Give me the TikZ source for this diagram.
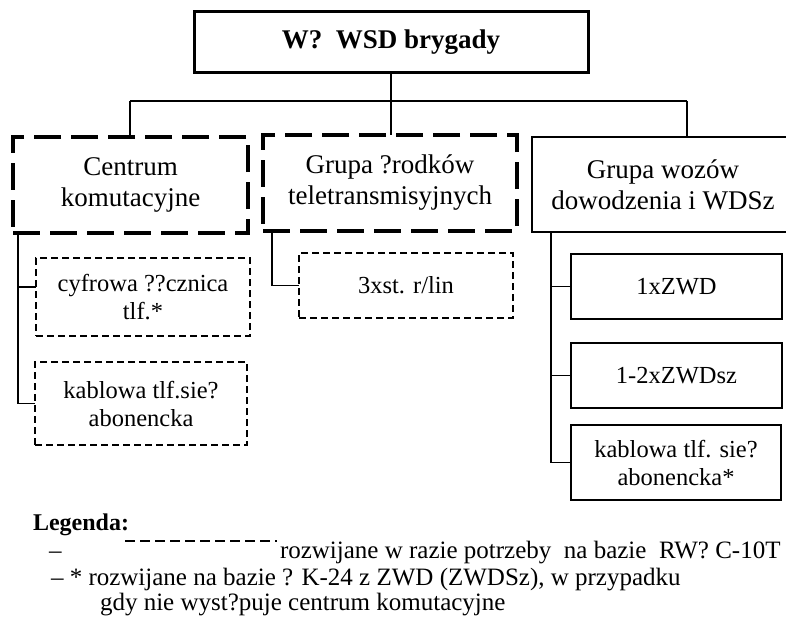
\documentclass[tikz,border=0pt]{standalone}
\usepackage{fontspec}
\setmainfont{Liberation Serif}
\begin{document}
\begin{tikzpicture}[x=1pt,y=-1pt,
  every node/.style={inner sep=0pt, outer sep=0pt, align=center},
  boxfont/.style={font=\fontsize{27}{31}\selectfont},
  smallfont/.style={font=\fontsize{24.5}{28}\selectfont},
  legfont/.style={font=\fontsize{25}{27}\selectfont},
  topbox/.style={draw, line width=3pt, font=\fontsize{27}{32}\selectfont\bfseries},
  bigdash/.style={draw, line width=3.5pt, dash pattern=on 27pt off 10pt, boxfont},
  bigsolid/.style={draw, line width=2.6pt, boxfont},
  smalldash/.style={draw, line width=1.8pt, dash pattern=on 7pt off 4pt, smallfont},
  smallsolid/.style={draw, line width=1.8pt, smallfont},
  bus/.style={line width=2.6pt},
  link/.style={line width=1.3pt},
  legdash/.style={line width=2.4pt, dash pattern=on 10pt off 5pt},
]
\useasboundingbox (0,0) rectangle (786,626);

% top level
\node[topbox, minimum width=394pt, minimum height=60pt] (top) at (391,42) {W?~ WSD brygady};

% second level
\node[bigdash, minimum width=235pt, minimum height=96pt] (cc) at (130.5,185) {Centrum\\komutacyjne};
\node[bigdash, minimum width=254pt, minimum height=96pt] (gs) at (390,183) {Grupa ?rodków\\teletransmisyjnych};
\node[bigsolid, minimum width=262pt, minimum height=95pt] (gw) at (663,184.5) {Grupa wozów\\dowodzenia i WDSz};

% third level, left column
\node[smalldash, minimum width=214pt, minimum height=78pt] (cyf) at (143,297) {cyfrowa ??cznica\\tlf.*};
\node[smalldash, minimum width=212pt, minimum height=83pt] (kab1) at (141,403.5) {kablowa tlf.sie?\\abonencka};

% third level, middle column
\node[smalldash, minimum width=214pt, minimum height=65pt] (st3) at (406,285.5) {3xst. r/lin};

% third level, right column
\node[smallsolid, minimum width=211pt, minimum height=65pt] (z1) at (676.5,286.5) {1xZWD};
\node[smallsolid, minimum width=211pt, minimum height=65pt] (z2) at (676.5,375.5) {1-2xZWDsz};
\node[smallsolid, minimum width=210pt, minimum height=75pt] (kab2) at (676,462.5) {kablowa tlf. sie?\\abonencka*};

% bus connecting the second level
\coordinate (busL) at (130,101);
\coordinate (busR) at (687,101);
\draw[bus] (busL) -- (busR);
\draw[bus] (top.south) -- (top.south |- gs.north);
\draw[bus] (busL) -- (busL |- cc.north);
\draw[bus] (busR) -- (busR |- gw.north);

% branches to the third level
\coordinate (lcol) at (18,233);
\draw[link] (lcol) |- (kab1.west);
\draw[link] (lcol |- cyf.west) ++(0,-10) -- ([yshift=10pt]cyf.west);

\coordinate (mcol) at (272,231);
\draw[link] (mcol) |- (st3.west);

\coordinate (rcol) at (551,232);
\draw[link] (rcol) |- (kab2.west);
\draw[link] (rcol |- z1.west) -- (z1.west);
\draw[link] (rcol |- z2.west) -- (z2.west);

% legend
\node[anchor=base west, font=\fontsize{24}{26}\selectfont\bfseries] (leg) at (33,530) {Legenda:};
\node[anchor=base west, legfont] (d1) at (49,558) {–};
\coordinate (ls) at (125,541);
\coordinate (le) at (277,541);
\draw[legdash] (ls) -- (le);
\node[anchor=base west, legfont] (l1) at (280,558) {rozwijane w razie potrzeby \ na bazie \ RW? C-10T};
\node[anchor=base west, legfont] (l2) at (51,585) {– * rozwijane na bazie ? K-24 z ZWD (ZWDSz), w przypadku};
\node[anchor=base west, legfont] (l3) at (100,610) {gdy nie wyst?puje centrum komutacyjne};
\end{tikzpicture}
\end{document}
